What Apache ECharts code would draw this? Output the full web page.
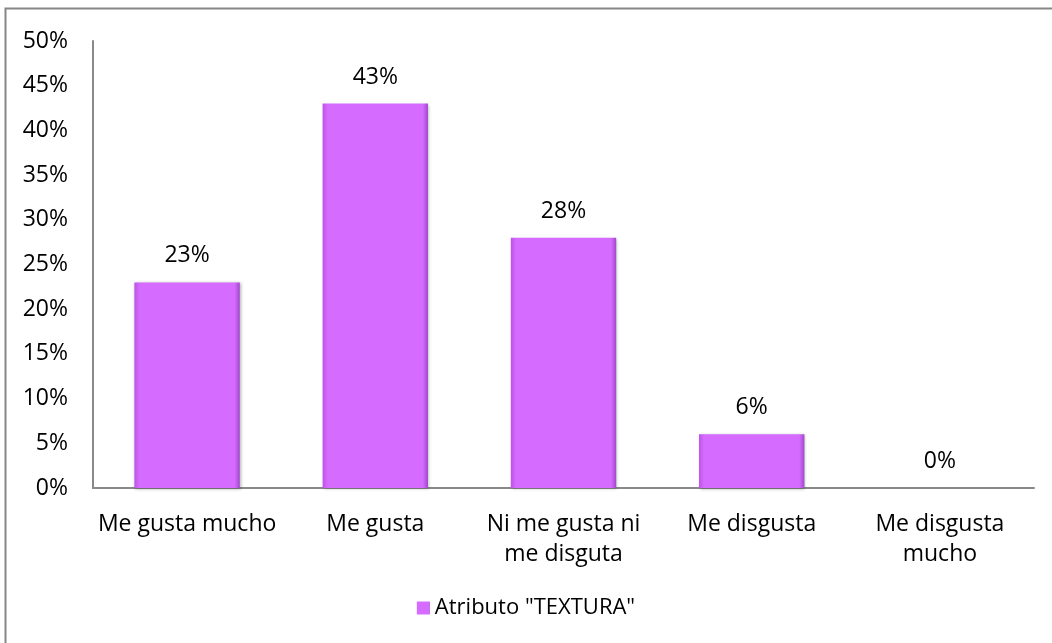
<!DOCTYPE html>
<html>
<head>
<meta charset="utf-8">
<script src="https://cdn.jsdelivr.net/npm/echarts@6/dist/echarts.min.js"></script>
<style>
  html, body { margin: 0; padding: 0; background: #fff; }
  #chart { width: 1052px; height: 643px; }
</style>
</head>
<body>
<div id="chart"></div>
<script>
// Survey responses for the "TEXTURA" attribute
const categories = ['Me gusta mucho', 'Me gusta', 'Ni me gusta ni\nme disguta', 'Me disgusta', 'Me disgusta\nmucho'];
const values = [23, 43, 28, 6, 0];
const seriesName = 'Atributo "TEXTURA"';
const yTicks = { min: 0, max: 50, step: 5 };

const font = '"Open Sans", "Noto Sans", sans-serif';
const fontSize = 23;
// Horizontal gradient gives the bars their darker side edges
const barColor = {
  type: 'linear', x: 0, y: 0, x2: 1, y2: 0,
  colorStops: [
    { offset: 0, color: '#bb55e6' },
    { offset: 0.05, color: '#d66cff' },
    { offset: 0.95, color: '#d66cff' },
    { offset: 1, color: '#a048cc' }
  ]
};

const chart = echarts.init(document.getElementById('chart'));
chart.setOption({
  animation: false,
  backgroundColor: '#fff',
  graphic: [{
    type: 'rect',
    shape: { x: 5.5, y: 8.5, width: 1200, height: 800 },
    style: { fill: 'none', stroke: '#868686', lineWidth: 2 },
    silent: true
  }],
  grid: { left: 93, top: 41, right: 18, bottom: 155, containLabel: false },
  legend: {
    bottom: 19,
    left: 'center',
    itemWidth: 13,
    itemHeight: 13,
    itemGap: 4,
    icon: 'rect',
    textStyle: { fontFamily: font, fontSize: 22, color: '#000' },
    data: [seriesName]
  },
  xAxis: {
    type: 'category',
    data: categories,
    axisLine: { lineStyle: { color: '#898989', width: 2 } },
    axisTick: { show: false },
    axisLabel: {
      fontFamily: font, fontSize: fontSize, color: '#000',
      margin: 21, lineHeight: 30, interval: 0
    }
  },
  yAxis: {
    type: 'value',
    min: yTicks.min, max: yTicks.max, interval: yTicks.step,
    splitLine: { show: false },
    axisLine: { show: true, lineStyle: { color: '#898989', width: 2 } },
    axisTick: { show: false },
    axisLabel: {
      fontFamily: font, fontSize: fontSize, color: '#000', margin: 25,
      formatter: v => v + '%'
    }
  },
  series: [{
    name: seriesName,
    type: 'bar',
    data: values,
    barWidth: '56%',
    itemStyle: {
      color: barColor,
      borderWidth: 0,
      shadowColor: 'rgba(0,0,0,0.3)',
      shadowBlur: 3,
      shadowOffsetX: 1,
      shadowOffsetY: 1
    },
    label: {
      show: true,
      position: 'top',
      distance: 15,
      fontFamily: font, fontSize: fontSize, color: '#000',
      formatter: p => p.value + '%'
    }
  }]
});
</script>
</body>
</html>
